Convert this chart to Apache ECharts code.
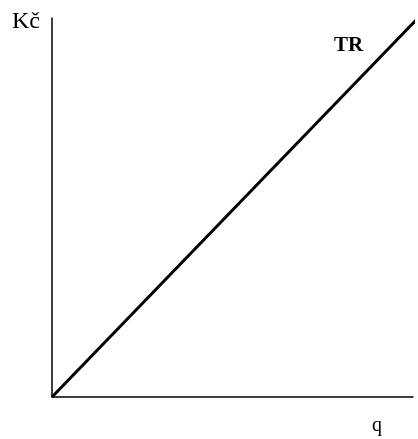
<!DOCTYPE html>
<html>
<head>
<meta charset="utf-8">
<style>
  html, body { margin: 0; padding: 0; background: #fff; }
  #chart { width: 418px; height: 439px; }
</style>
<script src="https://cdn.jsdelivr.net/npm/echarts@6/dist/echarts.min.js"></script>
</head>
<body>
<div id="chart"></div>
<script>
// data: TR line from origin up past the top right corner
var qValues = [0, 101.4];
var trValues = [0, 100];
var yLabel = 'Kč';
var xLabel = 'q';
var seriesName = 'TR';

var serif = '"Liberation Serif", "DejaVu Serif", serif';

var chart = echarts.init(document.getElementById('chart'));
chart.setOption({
  animation: false,
  backgroundColor: '#fff',
  grid: { left: 52, right: 5, top: 18, bottom: 42 },
  xAxis: {
    type: 'value', min: 0, max: 100,
    axisLine: { show: true, lineStyle: { color: '#000', width: 1.5 } },
    axisTick: { show: false }, axisLabel: { show: false }, splitLine: { show: false }
  },
  yAxis: {
    type: 'value', min: 0, max: 100,
    axisLine: { show: true, lineStyle: { color: '#000', width: 1.5 } },
    axisTick: { show: false }, axisLabel: { show: false }, splitLine: { show: false }
  },
  series: [{
    name: seriesName,
    type: 'line',
    clip: false,
    symbol: 'none',
    data: qValues.map(function (q, i) { return [q, trValues[i]]; }),
    lineStyle: { color: '#000', width: 3 }
  }],
  graphic: [
    { type: 'text', left: 12, top: 10,
      style: { text: yLabel, font: '24px ' + serif, fill: '#000' } },
    { type: 'text', left: 334, top: 35,
      style: { text: seriesName, font: 'bold 21px ' + serif, fill: '#000' } },
    { type: 'text', left: 372, top: 416,
      style: { text: xLabel, font: '20px ' + serif, fill: '#000' } }
  ]
});
</script>
</body>
</html>
